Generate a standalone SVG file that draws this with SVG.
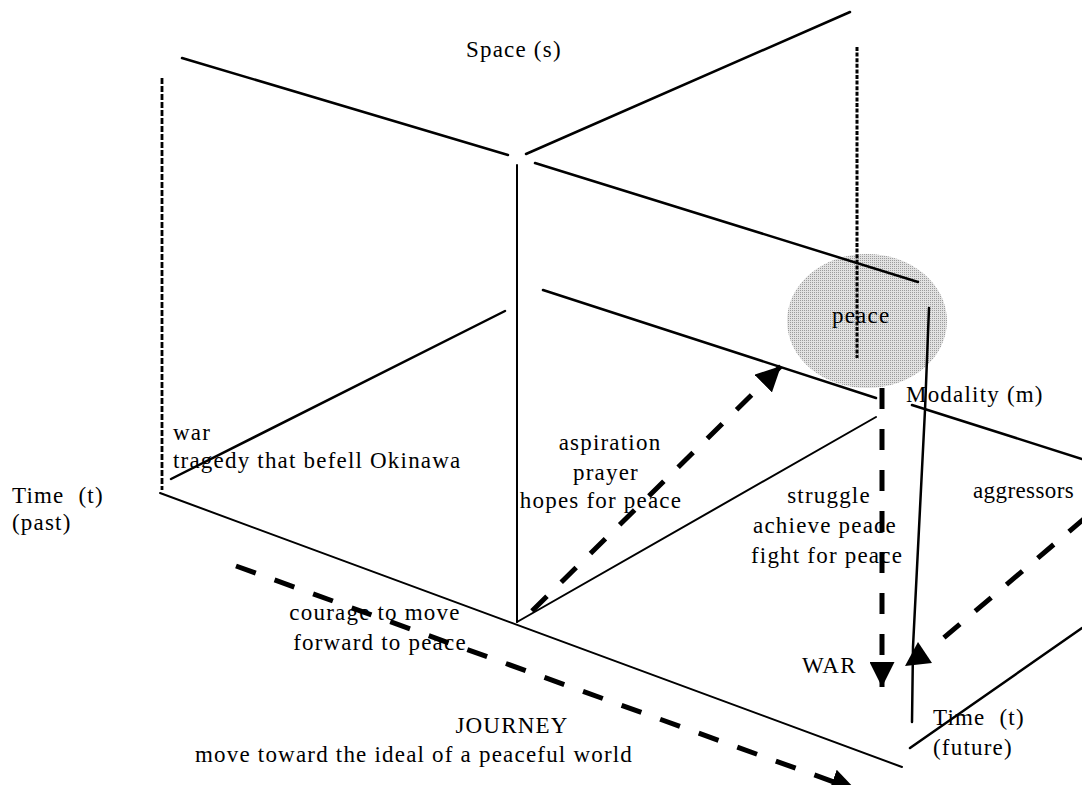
<svg xmlns="http://www.w3.org/2000/svg" width="1082" height="785" viewBox="0 0 1082 785">
<defs>
<style>
.t{font-family:"Liberation Serif","Times New Roman",serif;font-size:23px;letter-spacing:1.2px;fill:#000}
.m{text-anchor:middle}
.ln{stroke:#000;stroke-width:2;fill:none;stroke-linecap:round}
.rough{stroke:#000;stroke-width:2.5;fill:none;stroke-linecap:round}
.dot{stroke:#000;stroke-width:2.8;fill:none;stroke-dasharray:6 2}
.ladder{stroke:#000;stroke-width:3;fill:none;stroke-dasharray:4 1.6}
.dash{stroke:#000;stroke-width:5;fill:none;stroke-dasharray:21 20}
</style>
<pattern id="stip" width="2" height="2" patternUnits="userSpaceOnUse">
<rect width="2" height="2" fill="#e2e2e2"/>
<rect width="1" height="1" fill="#9c9c9c"/>
</pattern>
<marker id="ah" viewBox="0 0 24 24" refX="24" refY="12" markerWidth="25" markerHeight="25" markerUnits="userSpaceOnUse" orient="auto">
<path d="M0,0 L24,12 L0,24 z" fill="#000"/>
</marker>
</defs>
<rect width="1082" height="785" fill="#fff"/>

<g id="peace-area">
<ellipse cx="867" cy="321" rx="80" ry="67" fill="url(#stip)"/>
</g>

<g id="connectors">
<line class="rough" x1="182" y1="58" x2="508" y2="155"/>
<line class="rough" x1="526" y1="154" x2="850" y2="12"/>
<line class="rough" x1="535" y1="163" x2="918" y2="282"/>
<line class="dot" x1="162" y1="78" x2="162" y2="490"/>
<line class="rough" x1="171" y1="479" x2="505" y2="311"/>
<line class="rough" x1="543" y1="290" x2="876" y2="398"/>
<line class="ln" x1="517" y1="165" x2="517" y2="622"/>
<line class="ln" x1="160" y1="493" x2="902" y2="767"/>
<line class="ln" x1="517" y1="622" x2="876" y2="417"/>
<line class="ladder" x1="857" y1="47" x2="857" y2="358"/>
<polyline class="rough" points="929,308 925,410 913,647 912,722"/>
<line class="rough" x1="912" y1="405" x2="1082" y2="459"/>
<line class="rough" x1="910" y1="748" x2="1082" y2="628"/>
<line class="dash" x1="532" y1="611" x2="781" y2="366" marker-end="url(#ah)"/>
<line class="dash" x1="882" y1="388" x2="882" y2="687" marker-end="url(#ah)"/>
<line class="dash" x1="236" y1="566" x2="856" y2="790" marker-end="url(#ah)"/>
<line class="dash" x1="1085" y1="518" x2="940" y2="641"/>
<polygon points="918,642 905,666 932,663" fill="#000"/>
</g>

<g id="label-space"><text class="t" x="466" y="57">Space (s)</text></g>
<g id="label-war"><text class="t" x="173" y="440">war</text><text class="t" x="173" y="468">tragedy that befell Okinawa</text></g>
<g id="label-time-past"><text class="t" x="12" y="503" xml:space="preserve">Time  (t)</text><text class="t" x="12" y="530">(past)</text></g>
<g id="label-aspiration"><text class="t m" x="610" y="450">aspiration</text><text class="t m" x="606" y="480">prayer</text><text class="t m" x="601" y="508">hopes for peace</text></g>
<g id="label-peace"><text class="t" x="832" y="323">peace</text></g>
<g id="label-modality"><text class="t" x="906" y="402">Modality (m)</text></g>
<g id="label-struggle"><text class="t m" x="829" y="503">struggle</text><text class="t m" x="825" y="533">achieve peace</text><text class="t m" x="827" y="563">fight for peace</text></g>
<g id="label-aggressors"><text class="t" x="973" y="498" style="letter-spacing:0.4px">aggressors</text></g>
<g id="label-WAR"><text class="t" x="802" y="673">WAR</text></g>
<g id="label-time-future"><text class="t" x="933" y="725" xml:space="preserve">Time  (t)</text><text class="t" x="933" y="755">(future)</text></g>
<g id="label-courage"><text class="t m" x="375" y="620">courage to move</text><text class="t m" x="380" y="650">forward to peace</text></g>
<g id="label-journey"><text class="t m" x="512" y="733">JOURNEY</text><text class="t m" x="414" y="762">move toward the ideal of a peaceful world</text></g>
</svg>
